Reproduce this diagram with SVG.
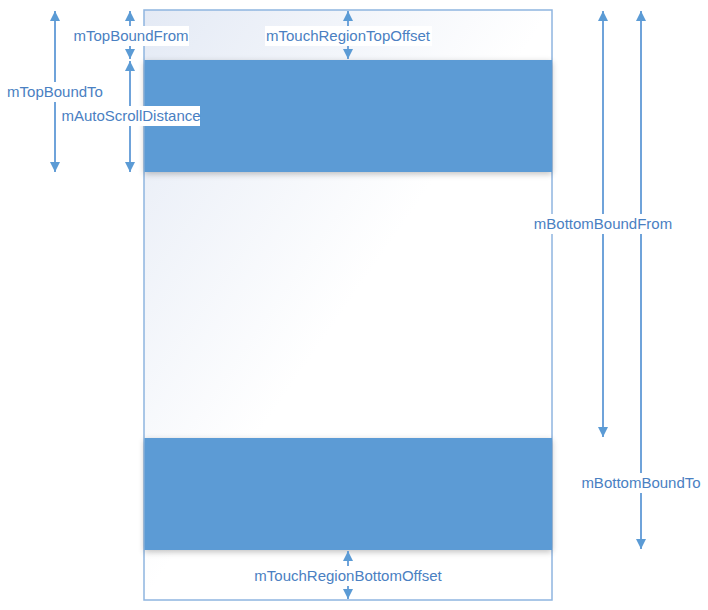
<svg xmlns="http://www.w3.org/2000/svg" width="708" height="610" viewBox="0 0 708 610">
<style>
.lbl{font-family:"Liberation Sans","DejaVu Sans",sans-serif;font-size:15px;fill:#4a80c2;text-anchor:middle}
.dim{stroke:#6fa3da;stroke-width:2;fill:none;marker-start:url(#ah);marker-end:url(#ah)}
.band{fill:#5b9bd5}
.bg{fill:#ffffff}
</style>
<defs>
<marker id="ah" viewBox="0 0 10 10" refX="10" refY="5" markerWidth="5" markerHeight="5" orient="auto-start-reverse" markerUnits="strokeWidth">
<path d="M0,0 L10,5 L0,10 z" fill="#5b9bd5"/>
</marker>
<linearGradient id="g" x1="0" y1="0" x2="1" y2="1" gradientUnits="objectBoundingBox">
<stop offset="0" stop-color="#e4eaf5"/>
<stop offset="0.5" stop-color="#ffffff"/>
<stop offset="1" stop-color="#ffffff"/>
</linearGradient>
<filter id="sh" x="-5%" y="-20%" width="110%" height="140%">
<feGaussianBlur in="SourceAlpha" stdDeviation="3"/>
<feOffset dy="2"/>
<feComponentTransfer><feFuncA type="linear" slope="0.25"/></feComponentTransfer>
<feMerge><feMergeNode/><feMergeNode in="SourceGraphic"/></feMerge>
</filter>
</defs>
<g id="screen">
<rect x="144" y="10" width="408" height="590" fill="url(#g)" stroke="#8fb5e0" stroke-width="1.5"/>
</g>
<g id="top-band">
<rect class="band" x="144.5" y="60" width="407.5" height="112" filter="url(#sh)"/>
</g>
<g id="bottom-band">
<rect class="band" x="144.5" y="438" width="407.5" height="112" filter="url(#sh)"/>
</g>
<g id="connectors">
<line class="dim" x1="55" y1="11" x2="55" y2="172"/>
<line class="dim" x1="130" y1="11" x2="130" y2="59"/>
<line class="dim" x1="130" y1="61" x2="130" y2="172"/>
<line class="dim" x1="348" y1="11" x2="348" y2="59"/>
<line class="dim" x1="603" y1="11" x2="603" y2="437"/>
<line class="dim" x1="641" y1="11" x2="641" y2="549"/>
<line class="dim" x1="348" y1="551" x2="348" y2="599"/>
</g>
<g id="label-topboundto">
<rect class="bg" x="6" y="82" width="99" height="20"/>
<text class="lbl" x="55" y="97">mTopBoundTo</text>
</g>
<g id="label-topboundfrom">
<rect class="bg" x="73" y="26" width="116" height="20"/>
<text class="lbl" x="131" y="41">mTopBoundFrom</text>
</g>
<g id="label-autoscroll">
<rect class="bg" x="61" y="106" width="139" height="20"/>
<text class="lbl" x="131" y="121">mAutoScrollDistance</text>
</g>
<g id="label-touchtop">
<rect class="bg" x="265" y="26" width="167" height="20"/>
<text class="lbl" x="348" y="41">mTouchRegionTopOffset</text>
</g>
<g id="label-bottomboundfrom">
<rect class="bg" x="532" y="214" width="143" height="20"/>
<text class="lbl" x="603" y="229">mBottomBoundFrom</text>
</g>
<g id="label-bottomboundto">
<rect class="bg" x="579" y="473" width="124" height="20"/>
<text class="lbl" x="641" y="488">mBottomBoundTo</text>
</g>
<g id="label-touchbottom">
<rect class="bg" x="252" y="566" width="192" height="20"/>
<text class="lbl" x="348" y="581">mTouchRegionBottomOffset</text>
</g>
</svg>
